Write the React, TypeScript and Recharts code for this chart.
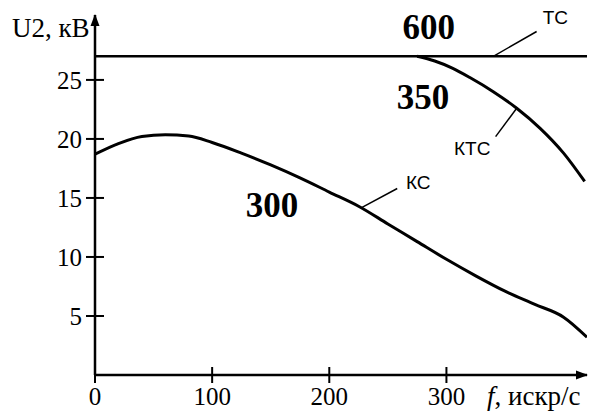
import { LineChart, Line, XAxis, YAxis, ReferenceDot, ReferenceLine } from "recharts"

// КС curve
const kcX = [0, 20, 40, 60, 80, 100, 125, 150, 175, 200, 225, 250, 275, 300, 325, 350, 375, 400, 420]
const kcY = [18.7, 19.6, 20.2, 20.35, 20.25, 19.7, 18.8, 17.8, 16.7, 15.5, 14.3, 12.8, 11.3, 9.8, 8.4, 7.1, 6.0, 4.9, 3.2]

// КТС curve (branches off the ТС line)
const ktcX = [275, 290, 305, 320, 340, 360, 380, 400, 418]
const ktcY = [27.0, 26.6, 26.0, 25.2, 24.0, 22.6, 20.9, 18.8, 16.4]

// ТС line
const tcX = [0, 420]
const tcY = [27.0, 27.0]

const xTicks = [0, 100, 200, 300]
const yTicks = [5, 10, 15, 20, 25]

// annotations: [x, y, text]
const bigLabels: [number, number, string][] = [
  [285, 29.5, "600"],
  [280, 23.6, "350"],
  [151, 14.4, "300"],
]
const curveNames: [number, number, string][] = [
  [393, 30.3, "ТС"],
  [322, 19.2, "КТС"],
  [276, 16.3, "КС"],
]
const leaders: [number, number, number, number][] = [
  [340, 27.0, 377, 29.1],
  [360, 22.6, 342, 20.2],
  [228, 14.2, 258, 15.8],
]

const kcData = kcX.map((x, i) => ({ x, v: kcY[i] }))
const ktcData = ktcX.map((x, i) => ({ x, v: ktcY[i] }))
const tcData = tcX.map((x, i) => ({ x, v: tcY[i] }))

const serif = "'Liberation Serif', 'DejaVu Serif', serif"
const sans = "'Liberation Sans', Arial, sans-serif"

const YTick = (p: any) => (
  <g>
    <line x1={p.x + 4} x2={p.x + 22} y1={p.y} y2={p.y} stroke="#000" strokeWidth={2} />
    <text x={p.x} y={p.y} dy="0.35em" textAnchor="end" fontFamily={serif} fontSize={25} fill="#000">
      {p.payload.value}
    </text>
  </g>
)

const XTick = (p: any) => (
  <g>
    <line x1={p.x} x2={p.x} y1={p.y - 20} y2={p.y - 4} stroke="#000" strokeWidth={2} />
    <text x={p.x} y={p.y} dy="0.7em" textAnchor="middle" fontFamily={serif} fontSize={25} fill="#000">
      {p.payload.value}
    </text>
  </g>
)

export default function App() {
  return (
    <div style={{ position: "absolute", left: 0, top: 0, width: 593, height: 416, background: "#fff" }}>
      <LineChart width={593} height={416} margin={{ top: 15, right: 6, bottom: 0, left: 0 }}>
        <XAxis
          type="number"
          dataKey="x"
          domain={[0, 420]}
          ticks={xTicks}
          height={41}
          tickSize={8}
          tickMargin={4}
          tickLine={false}
          tick={<XTick />}
          axisLine={{ stroke: "#000", strokeWidth: 2.5 }}
          label={{
            content: (props: any) => {
              const vb = props.viewBox
              return (
                <text x={vb.x + vb.width - 100} y={vb.y + 30} fontFamily={serif} fontSize={27} fill="#000">
                  <tspan fontStyle="italic">f</tspan>, искр/с
                </text>
              )
            },
          }}
          allowDataOverflow
        />
        <YAxis
          type="number"
          dataKey="v"
          domain={[0, 30.5]}
          ticks={yTicks}
          width={95}
          tickSize={9}
          tickMargin={4}
          tickLine={false}
          tick={<YTick />}
          axisLine={{ stroke: "#000", strokeWidth: 2.5 }}
          label={{
            content: (props: any) => {
              const vb = props.viewBox
              return (
                <text x={12} y={vb.y + 22} fontFamily={serif} fontSize={27} fill="#000">
                  U2, кВ
                </text>
              )
            },
          }}
          allowDataOverflow
        />
        <Line data={tcData} dataKey="v" type="linear" stroke="#000" strokeWidth={2.5} dot={false} isAnimationActive={false} />
        <Line data={ktcData} dataKey="v" type="monotone" stroke="#000" strokeWidth={3} dot={false} isAnimationActive={false} />
        <Line data={kcData} dataKey="v" type="monotone" stroke="#000" strokeWidth={3} dot={false} isAnimationActive={false} />
        {/* axis arrowheads */}
        <ReferenceDot
          x={420}
          y={0}
          r={0}
          ifOverflow="visible"
          shape={(p: any) => <path d={`M${p.cx + 1},${p.cy} L${p.cx - 11},${p.cy - 4.5} L${p.cx - 11},${p.cy + 4.5} Z`} fill="#000" />}
        />
        <ReferenceDot
          x={0}
          y={30.5}
          r={0}
          ifOverflow="visible"
          shape={(p: any) => <path d={`M${p.cx},${p.cy - 1} L${p.cx - 4.5},${p.cy + 11} L${p.cx + 4.5},${p.cy + 11} Z`} fill="#000" />}
        />
        {leaders.map(([x1, y1, x2, y2], i) => (
          <ReferenceLine
            key={`ld-${i}`}
            segment={[
              { x: x1, y: y1 },
              { x: x2, y: y2 },
            ]}
            stroke="#000"
            strokeWidth={1.5}
            ifOverflow="visible"
          />
        ))}
        {bigLabels.map(([x, y, t]) => (
          <ReferenceDot
            key={`b-${t}`}
            x={x}
            y={y}
            r={0}
            ifOverflow="visible"
            shape={(p: any) => (
              <text x={p.cx} y={p.cy} dy="0.35em" textAnchor="middle" fontFamily={serif} fontWeight="bold" fontSize={35} fill="#000">
                {t}
              </text>
            )}
          />
        ))}
        {curveNames.map(([x, y, t]) => (
          <ReferenceDot
            key={`n-${t}`}
            x={x}
            y={y}
            r={0}
            ifOverflow="visible"
            shape={(p: any) => (
              <text x={p.cx} y={p.cy} dy="0.36em" textAnchor="middle" fontFamily={sans} fontSize={19} fill="#000">
                {t}
              </text>
            )}
          />
        ))}
      </LineChart>
    </div>
  )
}
